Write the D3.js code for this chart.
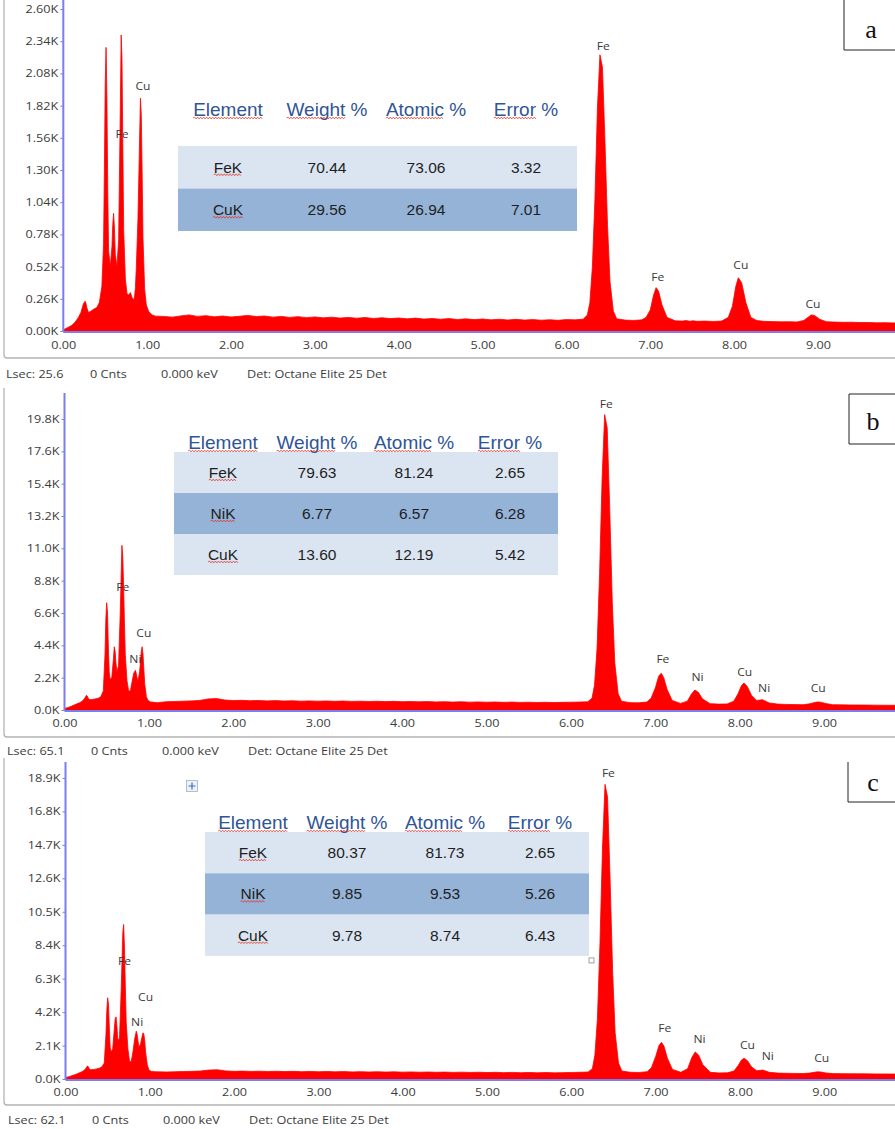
<!DOCTYPE html>
<html>
<head>
<meta charset="utf-8">
<script src="https://cdn.jsdelivr.net/npm/d3@7"></script>
<style>
  html, body { margin: 0; padding: 0; background: #ffffff; }
  svg { display: block; }
</style>
</head>
<body>
<svg id="fig" width="895" height="1129"></svg>
<script>
// ---------------------------------------------------------------
// EDS spectra of three samples (a, b, c): energy channels in keV
// and counts per channel, plus the quantification tables.
// ---------------------------------------------------------------
const energyKeV = [
  0.00,0.03,0.06,0.10,0.14,0.18,0.21,0.24,0.26,0.27,
  0.28,0.30,0.33,0.36,0.40,0.43,0.46,0.48,0.49,0.50,
  0.51,0.52,0.53,0.54,0.56,0.58,0.59,0.60,0.61,0.62,
  0.64,0.66,0.68,0.69,0.70,0.71,0.72,0.74,0.76,0.78,
  0.80,0.82,0.84,0.85,0.86,0.87,0.89,0.91,0.92,0.93,
  0.94,0.95,0.97,0.99,1.02,1.06,1.10,
  1.2,1.3,1.4,1.5,1.6,1.7,1.8,1.9,2.0,2.1,
  2.2,2.3,2.4,2.5,2.6,2.7,2.8,2.9,3.0,3.1,
  3.2,3.3,3.4,3.5,3.6,3.7,3.8,3.9,4.0,4.1,
  4.2,4.3,4.4,4.5,4.6,4.7,4.8,4.9,5.0,5.1,
  5.2,5.3,5.4,5.5,5.6,5.7,5.8,5.9,6.0,
  6.10,6.20,6.25,6.28,6.31,6.34,6.37,6.40,6.43,6.46,6.49,6.52,6.56,6.60,
  6.70,6.80,6.90,
  6.95,7.00,7.04,7.07,7.10,7.14,7.20,7.30,
  7.38,7.43,7.47,7.51,7.56,7.65,7.75,7.85,
  7.93,7.98,8.02,8.05,8.09,8.14,8.20,8.27,8.35,8.45,8.55,8.65,8.75,
  8.83,8.88,8.92,8.96,9.02,9.10,9.20,9.30,9.40,9.50,9.60,9.70,9.80,9.90,10.00
];

const countsA = [
  10,20,30,45,70,110,150,220,240,225,
  190,150,160,175,190,230,360,700,1300,2000,
  2290,1900,1150,650,520,680,860,950,830,620,
  520,740,1800,2390,2200,1500,820,420,300,290,
  310,270,250,280,350,500,900,1550,1880,1750,
  1300,760,340,210,155,130,120,
  118,112,122,130,118,124,115,121,113,119,
  126,117,121,112,118,110,116,108,114,106,
  112,104,110,103,109,101,107,100,105,98,
  104,96,101,95,100,93,98,92,97,90,
  95,89,94,88,92,87,91,86,92,
  90,95,130,230,520,1060,1800,2230,2130,1530,860,400,160,98,
  88,85,90,
  110,170,290,350,320,210,110,82,
  80,84,79,82,78,80,77,80,
  110,200,360,430,390,230,110,85,78,76,74,75,73,
  85,110,130,125,95,75,72,70,71,68,69,66,67,65,64
];

const countsB = [
  100,150,200,300,400,500,600,800,1000,950,
  800,700,720,750,800,900,1300,3800,6200,7300,
  6600,4200,2600,2100,2200,3500,4300,4000,3200,2600,
  3000,6500,11200,10500,8500,6000,3800,2000,1300,1300,
  1900,2500,2700,2500,2200,1950,2600,4000,4300,3800,
  2800,1800,900,650,550,520,500,
  560,580,600,620,650,750,780,680,640,660,
  630,650,620,640,610,630,600,620,600,615,
  590,610,585,600,580,595,570,590,565,580,
  555,575,550,565,540,560,535,550,530,545,
  520,540,515,530,510,525,505,520,530,
  540,560,800,1700,4200,9300,15800,20100,19200,13700,7400,3200,1100,600,
  500,490,540,
  800,1500,2300,2500,2200,1400,650,450,
  600,1100,1360,1200,750,430,400,410,
  600,1100,1650,1840,1600,1000,650,700,480,400,380,370,360,
  420,500,550,530,440,360,350,345,340,335,330,325,322,318,315
];

const countsC = [
  100,130,180,250,330,420,500,650,820,780,
  650,580,600,620,680,750,1000,2800,4300,5100,
  4700,3200,2000,1700,1900,3200,3800,3900,3300,2500,
  2500,5500,9200,9700,8200,5800,3600,1900,1100,1100,
  1700,2500,3000,2800,2400,2000,2200,2700,2900,2800,
  2400,1700,900,560,470,460,450,
  440,455,470,480,500,560,580,510,480,495,
  475,490,470,485,465,480,460,475,455,470,
  450,465,445,460,440,455,435,450,430,445,
  425,440,420,435,415,430,410,425,405,420,
  400,415,395,410,390,405,385,400,410,
  420,440,650,1500,3800,8500,14500,18500,17700,12600,6800,2900,1000,500,
  420,410,460,
  700,1400,2100,2300,2050,1300,600,420,
  650,1350,1700,1500,900,420,380,390,
  500,850,1200,1300,1150,750,520,560,420,370,360,350,345,
  370,420,450,440,380,340,335,330,325,322,318,315,312,310,305
];

// axis ticks
const xTicksKeV = [0,1,2,3,4,5,6,7,8,9];
const yTicksA = [0,260,520,780,1040,1300,1560,1820,2080,2340,2600];
const yTicksB = [0,2200,4400,6600,8800,11000,13200,15400,17600,19800];
const yTicksC = [0,2100,4200,6300,8400,10500,12600,14700,16800,18900];

// peak identification labels: element, energy (keV), counts level
const peakNamesA = ["Cu","Fe","Fe","Fe","Cu","Cu"];
const peakKeVA   = [0.95,0.70,6.44,7.09,8.08,8.94];
const peakCntA   = [1978,1591,2301,436,533,218];

const peakNamesB = ["Fe","Cu","Ni","Fe","Fe","Ni","Cu","Ni","Cu"];
const peakKeVB   = [0.69,0.94,0.84,6.42,7.09,7.50,8.06,8.29,8.93];
const peakCntB   = [8369,5239,3470,20820,3470,2245,2586,1497,1497];

const peakNamesC = ["Fe","Cu","Ni","Fe","Fe","Ni","Cu","Ni","Cu"];
const peakKeVC   = [0.70,0.95,0.85,6.44,7.11,7.52,8.09,8.33,8.97];
const peakCntC   = [7409,5149,3579,19214,3202,2512,2135,1444,1319];

// quantification tables
const tableHeaders = ["Element","Weight %","Atomic %","Error %"];
const elementsA = ["FeK","CuK"];
const weightA = [70.44,29.56];
const atomicA = [73.06,26.94];
const errorA  = [3.32,7.01];

const elementsB = ["FeK","NiK","CuK"];
const weightB = [79.63,6.77,13.60];
const atomicB = [81.24,6.57,12.19];
const errorB  = [2.65,6.28,5.42];

const elementsC = ["FeK","NiK","CuK"];
const weightC = [80.37,9.85,9.78];
const atomicC = [81.73,9.53,8.74];
const errorC  = [2.65,5.26,6.43];

// acquisition status line
const lsecValues = [25.6, 65.1, 62.1];
const panelLetters = ["a","b","c"];

// ---------------------------------------------------------------
const SW_FONT = "'Open Sans','Noto Sans','DejaVu Sans',sans-serif";
const TABLE_FONT = "'Liberation Sans',Arial,sans-serif";
const SERIF = "'Liberation Serif','Times New Roman',serif";
const SPEC_RED = "#ff0000";
const AXIS_BLUE = "#7b7bf2";
const STRETCH = 1.15;
const UI_SIZE = 11;

const svg = d3.select("#fig");

const panels = [
  {
    counts: countsA, yTicks: yTicksA, fmt: d => (d / 1000).toFixed(2) + "K",
    names: peakNamesA, pkE: peakKeVA, pkC: peakCntA,
    el: elementsA, w: weightA, at: atomicA, er: errorA,
    x0: 63.3, kx: 83.85, yBase: 331, yTop: 9, axisTop: -2,
    frameTop: -10, frameBottom: 358, statusY: 374, statusDx: 0, tickLabelY: 345,
    table: { left: 178, right: 577, headerY: 109, rowTop: 146, rowH: 42.5, cols: [228, 327, 426, 526] },
    box: { x: 844, y: -2, w: 60, h: 52, tx: 871, ty: 29, top: false }
  },
  {
    counts: countsB, yTicks: yTicksB, fmt: d => (d / 1000).toFixed(1) + "K",
    names: peakNamesB, pkE: peakKeVB, pkC: peakCntB,
    el: elementsB, w: weightB, at: atomicB, er: errorB,
    x0: 64.5, kx: 84.4, yBase: 710, yTop: 419, axisTop: 393,
    frameTop: 388, frameBottom: 737, statusY: 751, statusDx: 1, tickLabelY: 723,
    table: { left: 174, right: 558, headerY: 442, rowTop: 452, rowH: 41, cols: [223, 317, 414, 510] },
    box: { x: 849, y: 394, w: 60, h: 50, tx: 873, ty: 421, top: true }
  },
  {
    counts: countsC, yTicks: yTicksC, fmt: d => (d / 1000).toFixed(1) + "K",
    names: peakNamesC, pkE: peakKeVC, pkC: peakCntC,
    el: elementsC, w: weightC, at: atomicC, er: errorC,
    x0: 65.5, kx: 84.3, yBase: 1079, yTop: 778, axisTop: 762,
    frameTop: 758, frameBottom: 1105, statusY: 1120, statusDx: 2, tickLabelY: 1092,
    table: { left: 205, right: 589, headerY: 822, rowTop: 832, rowH: 41.3, cols: [253, 347, 445, 540] },
    box: { x: 848, y: 762, w: 60, h: 40, tx: 873, ty: 782, top: false },
    handles: true
  }
];

// stretched UI text, centred vertically on y
function swText(g, x, y, str, anchor, size, fill) {
  return g.append("text")
    .attr("transform", `translate(${x},${y}) scale(${STRETCH},1)`)
    .attr("text-anchor", anchor)
    .attr("dy", "0.35em")
    .attr("font-family", SW_FONT)
    .attr("font-size", size)
    .attr("fill", fill || "#3c3c3c")
    .text(str);
}

// red spell-check squiggle
function squiggle(g, x1, x2, y) {
  let d = `M${x1.toFixed(1)},${y}`;
  let up = true;
  for (let x = x1 + 1.5; x <= x2; x += 1.5) {
    d += `L${x.toFixed(1)},${(y + (up ? -0.9 : 0.9)).toFixed(1)}`;
    up = !up;
  }
  g.append("path").attr("d", d).attr("fill", "none")
    .attr("stroke", "#e5352b").attr("stroke-width", 0.8);
}

panels.forEach((p, pi) => {
  const g = svg.append("g");

  const x = d3.scaleLinear().domain([0, 10]).range([p.x0, p.x0 + 10 * p.kx]);
  const yMax = p.yTicks[p.yTicks.length - 1];
  const y = d3.scaleLinear().domain([0, yMax]).range([p.yBase, p.yTop]);

  // window frame (left and bottom edges)
  g.append("path")
    .attr("d", `M4,${p.frameTop} L4,${p.frameBottom - 3} Q4,${p.frameBottom} 7,${p.frameBottom} L900,${p.frameBottom}`)
    .attr("fill", "none").attr("stroke", "#b4b4b4").attr("stroke-width", 1.3);

  // spectrum area
  const clipId = "clip" + pi;
  g.append("clipPath").attr("id", clipId).append("rect")
    .attr("x", p.x0).attr("y", p.axisTop).attr("width", 900 - p.x0).attr("height", p.yBase - p.axisTop);
  const area = d3.area()
    .x((d, i) => x(energyKeV[i]))
    .y0(y(0))
    .y1(d => y(d))
    .curve(d3.curveLinear);
  g.append("path").datum(p.counts)
    .attr("clip-path", `url(#${clipId})`)
    .attr("d", area)
    .attr("fill", SPEC_RED)
    .attr("stroke", SPEC_RED)
    .attr("stroke-width", 0.8)
    .attr("stroke-linejoin", "round");

  // y axis ticks and labels
  const yAxis = d3.axisLeft(y).tickValues(p.yTicks).tickFormat(p.fmt).tickSize(3).tickPadding(3);
  const ya = g.append("g").attr("transform", `translate(${p.x0},0)`).call(yAxis);
  ya.select(".domain").remove();
  ya.selectAll(".tick line").attr("stroke", "#8a8a8a");
  ya.selectAll(".tick text")
    .attr("x", -5 / STRETCH)
    .attr("transform", `scale(${STRETCH},1)`)
    .attr("font-family", SW_FONT).attr("font-size", UI_SIZE).attr("fill", "#3c3c3c");

  // x axis labels
  const xAxis = d3.axisBottom(x).tickValues(xTicksKeV).tickFormat(d3.format(".2f")).tickSize(0);
  const xa = g.append("g").attr("transform", `translate(0,${p.tickLabelY})`).call(xAxis);
  xa.select(".domain").remove();
  xa.selectAll(".tick text")
    .attr("y", 0).attr("dy", "0.35em")
    .attr("transform", `scale(${STRETCH},1)`)
    .attr("font-family", SW_FONT).attr("font-size", UI_SIZE).attr("fill", "#3c3c3c");

  // blue axis lines
  g.append("line").attr("x1", p.x0).attr("x2", p.x0).attr("y1", p.axisTop).attr("y2", p.yBase + 1)
    .attr("stroke", AXIS_BLUE).attr("stroke-width", 2);
  g.append("line").attr("x1", p.x0).attr("x2", 900).attr("y1", p.yBase + 1).attr("y2", p.yBase + 1)
    .attr("stroke", AXIS_BLUE).attr("stroke-width", 2);

  // peak labels
  p.names.forEach((nm, i) => {
    swText(g, x(p.pkE[i]), y(p.pkC[i]), nm, "middle", 10.5, "#3a3a3a");
  });

  // status line
  const sx = p.statusDx;
  swText(g, 6 + sx, p.statusY, `Lsec: ${lsecValues[pi].toFixed(1)}`, "start", UI_SIZE);
  swText(g, 90 + sx, p.statusY, "0 Cnts", "start", UI_SIZE);
  swText(g, 161 + sx, p.statusY, "0.000 keV", "start", UI_SIZE);
  swText(g, 247 + sx, p.statusY, "Det: Octane Elite 25 Det", "start", UI_SIZE);

  // quantification table
  const t = p.table;
  const tg = g.append("g");
  p.el.forEach((e, i) => {
    tg.append("rect")
      .attr("x", t.left).attr("y", t.rowTop + i * t.rowH)
      .attr("width", t.right - t.left).attr("height", t.rowH)
      .attr("fill", i % 2 === 0 ? "#dbe5f1" : "#95b3d7");
  });
  tableHeaders.forEach((h, ci) => {
    const tx = tg.append("text")
      .attr("x", t.cols[ci]).attr("y", t.headerY).attr("dy", "0.35em")
      .attr("text-anchor", "middle")
      .attr("font-family", TABLE_FONT).attr("font-size", 19)
      .attr("fill", "#2f5597").text(h);
    const node = tx.node();
    const total = node.getComputedTextLength();
    const word = h.split(" ")[0];
    const ww = node.getSubStringLength(0, word.length);
    const start = t.cols[ci] - total / 2;
    squiggle(tg, start, start + ww, t.headerY + 9);
  });
  p.el.forEach((e, i) => {
    const cy = t.rowTop + i * t.rowH + t.rowH / 2;
    const vals = [e, p.w[i].toFixed(2), p.at[i].toFixed(2), p.er[i].toFixed(2)];
    vals.forEach((v, ci) => {
      const tx = tg.append("text")
        .attr("x", t.cols[ci]).attr("y", cy).attr("dy", "0.35em")
        .attr("text-anchor", "middle")
        .attr("font-family", TABLE_FONT).attr("font-size", 15.5)
        .attr("fill", "#1e1e1e").text(v);
      if (ci === 0) {
        const wdt = tx.node().getComputedTextLength();
        squiggle(tg, t.cols[ci] - wdt / 2, t.cols[ci] + wdt / 2, cy + 7.5);
      }
    });
  });

  // table handles (move and resize)
  if (p.handles) {
    const hx = t.left - 13, hy = t.headerY - 36;
    tg.append("rect").attr("x", hx - 5.5).attr("y", hy - 5.5).attr("width", 11).attr("height", 11)
      .attr("fill", "#eef2f8").attr("stroke", "#a6adbb").attr("stroke-width", 0.8);
    tg.append("path")
      .attr("d", `M${hx - 3.5},${hy} L${hx + 3.5},${hy} M${hx},${hy - 3.5} L${hx},${hy + 3.5}`)
      .attr("stroke", "#3a6fc4").attr("stroke-width", 1.2);
    tg.append("rect").attr("x", t.right).attr("y", t.rowTop + p.el.length * t.rowH + 2)
      .attr("width", 5).attr("height", 5)
      .attr("fill", "#ffffff").attr("stroke", "#8a8a8a").attr("stroke-width", 0.8);
  }

  // panel letter box
  const b = p.box;
  const bd = b.top
    ? `M900,${b.y} L${b.x},${b.y} L${b.x},${b.y + b.h} L900,${b.y + b.h}`
    : `M${b.x},${b.y} L${b.x},${b.y + b.h} L900,${b.y + b.h}`;
  g.append("path").attr("d", bd).attr("fill", "none").attr("stroke", "#222").attr("stroke-width", 1);
  g.append("text").attr("x", b.tx).attr("y", b.ty).attr("dy", "0.33em")
    .attr("text-anchor", "middle").attr("font-family", SERIF).attr("font-size", 26)
    .attr("fill", "#111").text(panelLetters[pi]);
});
</script>
</body>
</html>
